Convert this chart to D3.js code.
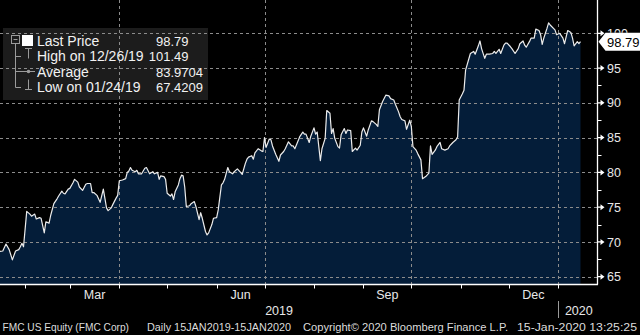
<!DOCTYPE html>
<html>
<head>
<meta charset="utf-8">
<script src="https://cdn.jsdelivr.net/npm/d3@7"></script>
<style>
  html, body { margin: 0; padding: 0; background: #000; }
  svg { display: block; }
  text { font-family: "Liberation Sans", Arial, sans-serif; }
</style>
</head>
<body>
<svg id="chart" width="640" height="335"></svg>
<script>
// FMC Corp daily closing prices, 15 Jan 2019 - 15 Jan 2020
const dates = [
  "2019-01-15","2019-01-18","2019-01-20","2019-01-22","2019-01-24","2019-01-26","2019-01-28","2019-01-29","2019-01-30","2019-01-31",
  "2019-02-02","2019-02-04","2019-02-05","2019-02-07","2019-02-08","2019-02-10","2019-02-11","2019-02-13","2019-02-14","2019-02-16",
  "2019-02-17","2019-02-19","2019-02-21","2019-02-22","2019-02-24","2019-02-25","2019-02-26","2019-02-28","2019-03-01","2019-03-03",
  "2019-03-04","2019-03-06","2019-03-07","2019-03-09","2019-03-11","2019-03-12","2019-03-14","2019-03-15","2019-03-16","2019-03-18",
  "2019-03-20","2019-03-22","2019-03-24","2019-03-25","2019-03-27","2019-03-28","2019-03-30","2019-03-31","2019-04-01","2019-04-03",
  "2019-04-05","2019-04-06","2019-04-07","2019-04-08","2019-04-09","2019-04-11","2019-04-12","2019-04-13","2019-04-15","2019-04-17",
  "2019-04-18","2019-04-20","2019-04-22","2019-04-23","2019-04-25","2019-04-26","2019-04-27","2019-04-29","2019-04-30","2019-05-01",
  "2019-05-03","2019-05-04","2019-05-05","2019-05-06","2019-05-08","2019-05-09","2019-05-10","2019-05-11","2019-05-12","2019-05-13",
  "2019-05-15","2019-05-16","2019-05-18","2019-05-19","2019-05-21","2019-05-22","2019-05-23","2019-05-25","2019-05-26","2019-05-27",
  "2019-05-29","2019-05-30","2019-06-01","2019-06-02","2019-06-04","2019-06-05","2019-06-06","2019-06-08","2019-06-09","2019-06-11",
  "2019-06-12","2019-06-14","2019-06-16","2019-06-17","2019-06-19","2019-06-20","2019-06-21","2019-06-23","2019-06-24","2019-06-25",
  "2019-06-27","2019-06-29","2019-06-30","2019-07-01","2019-07-02","2019-07-04","2019-07-05","2019-07-06","2019-07-08","2019-07-10",
  "2019-07-11","2019-07-13","2019-07-14","2019-07-16","2019-07-18","2019-07-19","2019-07-20","2019-07-22","2019-07-23","2019-07-25",
  "2019-07-26","2019-07-27","2019-07-29","2019-07-30","2019-08-01","2019-08-02","2019-08-03","2019-08-05","2019-08-06","2019-08-08",
  "2019-08-09","2019-08-11","2019-08-12","2019-08-13","2019-08-14","2019-08-16","2019-08-17","2019-08-18","2019-08-20","2019-08-21",
  "2019-08-22","2019-08-24","2019-08-25","2019-08-27","2019-08-28","2019-08-30","2019-08-31","2019-09-01","2019-09-03","2019-09-04",
  "2019-09-06","2019-09-07","2019-09-09","2019-09-10","2019-09-11","2019-09-13","2019-09-15","2019-09-17","2019-09-18","2019-09-20",
  "2019-09-21","2019-09-23","2019-09-24","2019-09-25","2019-09-27","2019-09-28","2019-09-30","2019-10-01","2019-10-02","2019-10-04",
  "2019-10-05","2019-10-07","2019-10-08","2019-10-10","2019-10-12","2019-10-13","2019-10-14","2019-10-16","2019-10-17","2019-10-19",
  "2019-10-20","2019-10-22","2019-10-24","2019-10-25","2019-10-27","2019-10-29","2019-10-30","2019-10-31","2019-11-02","2019-11-03",
  "2019-11-04","2019-11-06","2019-11-07","2019-11-09","2019-11-10","2019-11-12","2019-11-13","2019-11-14","2019-11-16","2019-11-17",
  "2019-11-19","2019-11-21","2019-11-22","2019-11-23","2019-11-25","2019-11-26","2019-11-28","2019-11-29","2019-11-30","2019-12-02",
  "2019-12-03","2019-12-05","2019-12-07","2019-12-08","2019-12-10","2019-12-11","2019-12-12","2019-12-14","2019-12-15","2019-12-17",
  "2019-12-18","2019-12-20","2019-12-21","2019-12-22","2019-12-23","2019-12-24","2019-12-25","2019-12-26","2019-12-27","2019-12-30",
  "2019-12-31","2020-01-02","2020-01-04","2020-01-05","2020-01-06","2020-01-07","2020-01-09","2020-01-10","2020-01-11","2020-01-13",
  "2020-01-14","2020-01-15"
];
const prices = [
  68.6, 68.7, 69.7, 68.9, 67.42, 68.7, 68.9, 69.3, 69.8, 69.3,
  74.4, 74.0, 73.7, 74.0, 73.3, 73.5, 73.4, 71.3, 72.9, 72.7,
  73.8, 75.5, 76.2, 76.6, 77.3, 77.0, 76.9, 77.6, 77.7, 78.5,
  79.0, 78.6, 77.9, 77.4, 78.3, 78.4, 78.4, 77.1, 77.1, 76.7,
  75.7, 77.6, 74.9, 74.5, 74.9, 75.4, 76.3, 76.7, 78.8, 78.9,
  79.1, 80.0, 80.2, 80.7, 80.3, 80.1, 80.3, 79.8, 79.8, 80.6,
  80.7, 79.8, 80.1, 79.8, 80.0, 79.0, 79.5, 79.4, 79.0, 77.0,
  76.6, 76.9, 76.1, 77.2, 78.2, 79.1, 79.6, 79.5, 77.9, 75.1,
  75.2, 75.5, 75.8, 75.1, 73.2, 74.2, 73.4, 71.5, 71.0, 71.3,
  72.5, 73.4, 73.5, 74.6, 78.2, 78.5, 79.0, 80.7, 80.1, 79.8,
  80.1, 80.5, 80.0, 79.7, 81.3, 81.9, 82.2, 82.4, 81.9, 82.8,
  83.4, 83.1, 83.0, 85.0, 83.6, 84.8, 84.7, 83.8, 82.6, 81.6,
  82.5, 83.0, 83.4, 84.4, 83.8, 83.8, 83.4, 84.5, 85.1, 85.8,
  85.5, 85.5, 84.3, 85.2, 86.4, 85.5, 85.8, 81.7, 83.4, 84.9,
  88.9, 88.5, 85.6, 86.3, 84.9, 83.7, 83.5, 85.4, 86.3, 85.6,
  86.1, 86.0, 83.0, 83.5, 83.2, 83.9, 85.8, 86.4, 85.2, 86.1,
  87.4, 87.3, 86.9, 86.6, 89.0, 90.2, 91.1, 91.0, 90.6, 90.4,
  89.8, 88.7, 88.0, 87.6, 87.4, 86.2, 87.5, 86.6, 83.7, 83.2,
  82.7, 81.8, 79.1, 79.4, 79.9, 83.8, 82.6, 83.2, 83.7, 84.3,
  83.4, 83.2, 83.4, 83.8, 84.3, 84.7, 85.1, 90.4, 91.3, 91.8,
  94.7, 96.3, 97.1, 97.4, 97.0, 98.2, 98.9, 97.8, 96.4, 97.0,
  97.0, 97.1, 97.4, 97.1, 97.7, 97.1, 98.3, 98.6, 98.6, 98.1,
  97.8, 97.1, 97.8, 98.5, 98.9, 98.3, 98.0, 98.8, 99.3, 99.3,
  100.6, 100.4, 99.8, 98.4, 99.3, 100.0, 100.7, 101.49, 101.2, 100.5,
  99.8, 100.0, 99.3, 98.5, 99.5, 100.4, 100.1, 99.3, 98.2, 98.8,
  98.5, 98.79
];
const yTicks = [65, 70, 75, 80, 85, 90, 95, 100];
const yMinorTicks = [67.5, 72.5, 77.5, 82.5, 87.5, 92.5];
const quarterLabels = ["Mar", "Jun", "Sep", "Dec"];
const yearLabels = ["2019", "2020"];
const lastPrice = "98.79";
const legendLabels = ["Last Price", "High on 12/26/19", "Average", "Low on 01/24/19"];
const legendValues = ["98.79", "101.49", "83.9704", "67.4209"];
const footerParts = [
  "FMC US Equity (FMC Corp)",
  "Daily 15JAN2019-15JAN2020",
  "Copyright\u00A9 2020 Bloomberg Finance L.P.",
  "15-Jan-2020 13:25:25"
];

const parse = d3.timeParse("%Y-%m-%d");
const series = dates.map((d, i) => ({ date: parse(d), v: prices[i] }));

const svg = d3.select("#chart");
const W = 640, H = 335;
const plotRight = 597.5, axisY = 284.5;

svg.append("rect").attr("width", W).attr("height", H).attr("fill", "#000");

const x = d3.scaleTime()
  .domain([parse("2019-01-15"), parse("2020-01-15")])
  .range([-2, 580.5]);
const y = d3.scaleLinear().domain([65, 100]).range([276.7, 33.3]);

const yl = y(+lastPrice);
const tagHalf = 9;

const defs = svg.append("defs");
defs.append("clipPath").attr("id", "plotClip")
  .append("rect").attr("x", 0).attr("y", 0).attr("width", plotRight).attr("height", axisY);
// axis labels are hidden where the last-price tag sits on top of them
defs.append("clipPath").attr("id", "tagClip")
  .append("rect").attr("x", 600).attr("y", 0).attr("width", 40).attr("height", yl - tagHalf);

// legend panel sits underneath the grid
svg.append("rect")
  .attr("x", 3).attr("y", 28).attr("width", 205).attr("height", 72)
  .attr("fill", "#1c1c1c");

// price area
const plot = svg.append("g").attr("clip-path", "url(#plotClip)");
plot.append("path").datum(series)
  .attr("fill", "#041d39")
  .attr("d", d3.area().x(d => x(d.date)).y0(axisY).y1(d => y(d.v)));

// grid
const gridColor = "#8c8c8c";
plot.selectAll("line.hgrid").data(yTicks).join("line")
  .attr("class", "hgrid")
  .attr("x1", 0).attr("x2", plotRight)
  .attr("y1", d => Math.round(y(d)) + 0.5).attr("y2", d => Math.round(y(d)) + 0.5)
  .attr("stroke", gridColor).attr("stroke-width", 1).attr("stroke-dasharray", "3,3");

const monthTicks = d3.timeMonth.range(parse("2019-02-01"), parse("2020-01-02"));
const quarterStarts = monthTicks.filter(d => d.getMonth() % 3 === 0);
plot.selectAll("line.vgrid").data(quarterStarts).join("line")
  .attr("class", "vgrid")
  .attr("x1", d => Math.round(x(d)) + 0.5).attr("x2", d => Math.round(x(d)) + 0.5)
  .attr("y1", 0).attr("y2", axisY)
  .attr("stroke", gridColor).attr("stroke-width", 1).attr("stroke-dasharray", "3,3");

// price line
plot.append("path").datum(series)
  .attr("fill", "none")
  .attr("stroke", "#ececec").attr("stroke-width", 1.2)
  .attr("stroke-linejoin", "round")
  .attr("d", d3.line().x(d => x(d.date)).y(d => y(d.v)));

// axes frame
svg.append("line").attr("x1", 0).attr("x2", plotRight + 0.5)
  .attr("y1", axisY).attr("y2", axisY).attr("stroke", "#fff").attr("stroke-width", 1.3);
svg.append("line").attr("x1", plotRight).attr("x2", plotRight)
  .attr("y1", 0).attr("y2", axisY).attr("stroke", "#fff").attr("stroke-width", 1.3);

// x ticks
svg.selectAll("line.xtick").data(monthTicks).join("line")
  .attr("class", "xtick")
  .attr("x1", d => Math.round(x(d)) + 0.5).attr("x2", d => Math.round(x(d)) + 0.5)
  .attr("y1", axisY).attr("y2", axisY + 4)
  .attr("stroke", "#fff").attr("stroke-width", 1);

const textColor = "#e8e8e8";
const midMonths = monthTicks.filter(d => d.getMonth() % 3 === 2);
svg.selectAll("text.qlabel").data(midMonths).join("text")
  .attr("class", "qlabel")
  .attr("x", d => (x(d) + x(d3.timeMonth.offset(d, 1))) / 2)
  .attr("y", 299)
  .attr("text-anchor", "middle")
  .attr("font-size", 12.5).attr("fill", textColor)
  .text((d, i) => quarterLabels[i]);

const yearBreak = parse("2020-01-01");
svg.append("text")
  .attr("x", (0 + x(yearBreak)) / 2).attr("y", 315)
  .attr("text-anchor", "middle").attr("font-size", 12.5).attr("fill", textColor)
  .text(yearLabels[0]);
svg.append("text")
  .attr("x", (x(yearBreak) + plotRight) / 2 + 1).attr("y", 315)
  .attr("text-anchor", "middle").attr("font-size", 12.5).attr("fill", textColor)
  .text(yearLabels[1]);
svg.append("line")
  .attr("x1", Math.round(x(yearBreak)) + 0.5).attr("x2", Math.round(x(yearBreak)) + 0.5)
  .attr("y1", 301).attr("y2", 318)
  .attr("stroke", "#9a9a9a").attr("stroke-width", 1);

// y axis ticks and labels
svg.selectAll("path.ytick").data(yTicks).join("path")
  .attr("class", "ytick")
  .attr("d", d => {
    const yy = y(d);
    return `M${plotRight},${yy - 0.6}L${plotRight + 3},${yy - 0.6}L${plotRight + 3},${yy - 3}L${plotRight + 7},${yy}L${plotRight + 3},${yy + 3}L${plotRight + 3},${yy + 0.6}L${plotRight},${yy + 0.6}Z`;
  })
  .attr("fill", "#fff");
svg.selectAll("line.ymin").data(yMinorTicks).join("line")
  .attr("class", "ymin")
  .attr("x1", plotRight).attr("x2", plotRight + 4)
  .attr("y1", d => Math.round(y(d)) + 0.5).attr("y2", d => Math.round(y(d)) + 0.5)
  .attr("stroke", "#fff").attr("stroke-width", 1);
svg.selectAll("text.ylabel").data(yTicks).join("text")
  .attr("class", "ylabel")
  .attr("x", 607).attr("y", d => y(d) + 4.6)
  .attr("font-size", 12.5).attr("fill", textColor)
  .attr("clip-path", d => (Math.abs(y(d) - yl) < tagHalf + 6 ? "url(#tagClip)" : null))
  .text(d => d);

// last price tag
svg.append("path")
  .attr("d", `M${plotRight + 1},${yl}L${plotRight + 8},${yl - tagHalf}L640,${yl - tagHalf}L640,${yl + tagHalf}L${plotRight + 8},${yl + tagHalf}Z`)
  .attr("fill", "#fff");
svg.append("text")
  .attr("x", 607).attr("y", yl + 5)
  .attr("font-size", 13).attr("fill", "#000")
  .text(lastPrice);

// legend contents
const rowY = [45.5, 61, 76.5, 91.5];
const iconColor = "#9b9b9b";
const lg = svg.append("g");
lg.append("rect").attr("x", 11.5).attr("y", 35.5).attr("width", 8).attr("height", 8)
  .attr("fill", "none").attr("stroke", iconColor);
lg.append("line").attr("x1", 13.5).attr("x2", 17.5).attr("y1", 39.5).attr("y2", 39.5).attr("stroke", iconColor);
lg.append("line").attr("x1", 15.5).attr("x2", 15.5).attr("y1", 44).attr("y2", 87.5).attr("stroke", iconColor);
[56.5, 71.5, 87.5].forEach(yy => {
  lg.append("line").attr("x1", 15.5).attr("x2", 21).attr("y1", yy).attr("y2", yy).attr("stroke", iconColor);
});
lg.append("rect").attr("x", 22).attr("y", 35).attr("width", 11).attr("height", 11).attr("fill", "#fff");
// high marker
lg.append("line").attr("x1", 25).attr("x2", 32).attr("y1", 48.5).attr("y2", 48.5).attr("stroke", iconColor);
lg.append("line").attr("x1", 28.5).attr("x2", 28.5).attr("y1", 48.5).attr("y2", 58.5).attr("stroke", iconColor);
// average marker
lg.append("line").attr("x1", 21).attr("x2", 35).attr("y1", 71.5).attr("y2", 71.5).attr("stroke", iconColor);
lg.append("circle").attr("cx", 28.5).attr("cy", 71.5).attr("r", 1.8).attr("fill", iconColor);
// low marker
lg.append("line").attr("x1", 28.5).attr("x2", 28.5).attr("y1", 79.5).attr("y2", 89.5).attr("stroke", iconColor);
lg.append("line").attr("x1", 25).attr("x2", 32).attr("y1", 89.5).attr("y2", 89.5).attr("stroke", iconColor);

lg.selectAll("text.lname").data(legendLabels).join("text")
  .attr("class", "lname")
  .attr("x", 37).attr("y", (d, i) => rowY[i])
  .attr("font-size", 14).attr("fill", "#f2f2f2")
  .text(d => d);
const decimalX = 170.5;
lg.selectAll("text.lint").data(legendValues).join("text")
  .attr("class", "lint")
  .attr("x", decimalX).attr("y", (d, i) => rowY[i])
  .attr("text-anchor", "end")
  .attr("font-size", 13).attr("fill", "#f2f2f2")
  .text(d => d.split(".")[0]);
lg.selectAll("text.lfrac").data(legendValues).join("text")
  .attr("class", "lfrac")
  .attr("x", decimalX).attr("y", (d, i) => rowY[i])
  .attr("font-size", 13).attr("fill", "#f2f2f2")
  .text(d => "." + d.split(".")[1]);

// footer
const footerX = [2.5, 147, 303, 517];
const footerW = [126.5, 144, 205, 120];
svg.selectAll("text.footer").data(footerParts).join("text")
  .attr("class", "footer")
  .attr("x", (d, i) => footerX[i]).attr("y", 331)
  .attr("font-size", 11).attr("fill", "#dcdcdc")
  .attr("textLength", (d, i) => footerW[i])
  .attr("lengthAdjust", "spacingAndGlyphs")
  .text(d => d);
</script>
</body>
</html>
